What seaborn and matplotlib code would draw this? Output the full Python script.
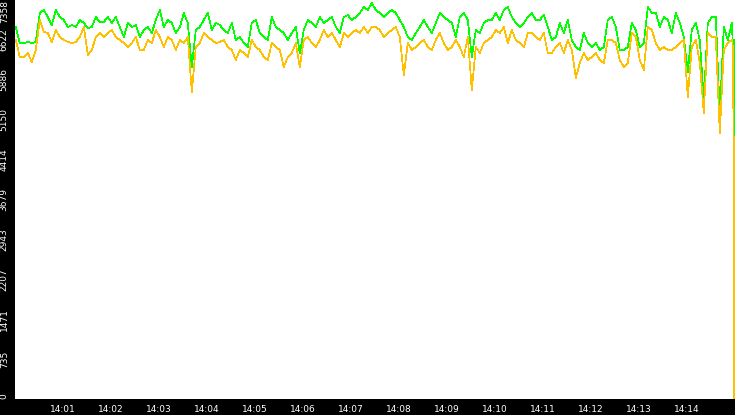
import matplotlib
matplotlib.use('Agg')
import matplotlib.dates as mdates
import matplotlib.pyplot as plt
import pandas as pd
import seaborn as sns

green_vals = [
    6860, 6565, 6565, 6584, 6565, 6584, 7118, 7174, 7045, 6897,
    7174, 7045, 6989, 6860, 6897, 6860, 6989, 6934, 6842, 6860,
    7045, 6952, 6952, 7045, 6934, 7045, 6860, 6676, 6934, 6860,
    6897, 6676, 6805, 6860, 6749, 6989, 7174, 6860, 6989, 6934,
    6749, 6860, 7118, 6934, 6123, 6805, 6860, 6989, 7118, 6805,
    6934, 6897, 6805, 6749, 6934, 6620, 6676, 6565, 6491, 6934,
    6989, 6749, 6676, 6620, 7045, 6860, 6805, 6749, 6620, 6749,
    6860, 6381, 6805, 6989, 6934, 6860, 7045, 6934, 6989, 7045,
    6860, 6749, 7045, 7081, 6989, 7045, 7118, 7229, 7174, 7303,
    7174, 7118, 7045, 7118, 7174, 7118, 6989, 6860, 6676, 6620,
    6749, 6860, 6989, 6860, 6749, 6934, 7118, 7045, 6989, 6934,
    6676, 7045, 7118, 6989, 6307, 6805, 6749, 6934, 6989, 6989,
    7118, 6989, 7174, 7229, 7045, 6934, 6860, 6934, 7045, 7118,
    6989, 6989, 7081, 6860, 6620, 6676, 6934, 6749, 6989, 6620,
    6491, 6436, 6749, 6565, 6491, 6565, 6436, 6491, 6989, 7045,
    6860, 6436, 6436, 6491, 6934, 6805, 6491, 6565, 7229, 7118,
    7118, 6860, 7045, 6989, 6749, 7118, 6934, 6676, 6030, 6805,
    6934, 6620, 5514, 6934, 7045, 7045, 5237, 6860, 6620, 6934,
]
orange_vals = [
    6620, 6307, 6307, 6381, 6215, 6436, 6989, 6768, 6749, 6584,
    6805, 6676, 6620, 6584, 6565, 6584, 6676, 6860, 6344, 6436,
    6676, 6749, 6676, 6749, 6805, 6676, 6620, 6565, 6491, 6565,
    6676, 6436, 6436, 6620, 6565, 6805, 6676, 6491, 6676, 6620,
    6436, 6620, 6565, 6676, 5662, 6491, 6565, 6749, 6676, 6620,
    6565, 6584, 6620, 6491, 6436, 6252, 6436, 6381, 6307, 6620,
    6491, 6436, 6307, 6252, 6565, 6491, 6436, 6123, 6307, 6381,
    6565, 6123, 6620, 6676, 6565, 6491, 6620, 6805, 6676, 6749,
    6620, 6491, 6749, 6676, 6749, 6805, 6749, 6860, 6749, 6860,
    6860, 6805, 6676, 6749, 6805, 6860, 6676, 5975, 6565, 6436,
    6491, 6565, 6620, 6491, 6436, 6620, 6749, 6565, 6436, 6491,
    6620, 6491, 6307, 6676, 5698, 6491, 6381, 6565, 6620, 6676,
    6805, 6749, 6860, 6565, 6805, 6620, 6565, 6491, 6749, 6749,
    6676, 6620, 6749, 6381, 6381, 6491, 6565, 6381, 6620, 6436,
    5920, 6196, 6381, 6252, 6307, 6381, 6252, 6196, 6620, 6620,
    6565, 6252, 6123, 6196, 6749, 6676, 6252, 6067, 6860, 6805,
    6565, 6436, 6491, 6436, 6436, 6491, 6565, 6620, 5569, 6491,
    6620, 6196, 5274, 6749, 6676, 6676, 4905, 6436, 6565, 6620,
]
# last samples, where the feed falls away
tail_times = ['2024-01-01 14:14:57', '2024-01-01 14:14:58.5', '2024-01-01 14:14:59']
green_tail = [6620, 6620, 3300]
orange_tail = [6620, 4590, 0]

y_ticks = [0, 735, 1471, 2207, 2943, 3679, 4414, 5150, 5886, 6622, 7358]
x_ticks = ['14:01', '14:02', '14:03', '14:04', '14:05', '14:06', '14:07',
           '14:08', '14:09', '14:10', '14:11', '14:12', '14:13', '14:14']

times = list(pd.date_range('2024-01-01 14:00:01', periods=len(green_vals), freq='5s'))
times += [pd.Timestamp(t) for t in tail_times]

df = pd.concat([
    pd.DataFrame({'time': times, 'value': green_vals + green_tail, 'series': 'green'}),
    pd.DataFrame({'time': times, 'value': orange_vals + orange_tail, 'series': 'orange'}),
])

sns.set_style('white')
fig = plt.figure(figsize=(7.35, 4.15), dpi=100, facecolor='black')
ax = fig.add_axes([15 / 735, 16 / 415, 720 / 735, 399 / 415])
ax.set_facecolor('white')

# crisp 1px lines like the original monitor graph
sns.lineplot(data=df, x='time', y='value', hue='series',
             palette={'green': '#00ff00', 'orange': '#ffc000'},
             estimator=None, lw=0.5, antialiased=False, legend=False, ax=ax)

ax.set_xlim(pd.Timestamp('2024-01-01 14:00:00'), pd.Timestamp('2024-01-01 14:15:00'))
ax.set_ylim(0, 7358)
ax.set_xticks([pd.Timestamp('2024-01-01 ' + t) for t in x_ticks])
ax.xaxis.set_major_formatter(mdates.DateFormatter('%H:%M'))
ax.set_yticks(y_ticks)
ax.set_xlabel('')
ax.set_ylabel('')
for s in ax.spines.values():
    s.set_visible(False)

ax.tick_params(colors='white', labelsize=6.5, length=4, width=1, pad=0.5)
for i, lab in enumerate(ax.get_yticklabels()):
    lab.set_rotation(90)
    if i == 0:
        lab.set_va('bottom')
    elif i == len(y_ticks) - 1:
        lab.set_va('top')
    else:
        lab.set_va('center')

fig.savefig('out.png', dpi=100, facecolor='black')
